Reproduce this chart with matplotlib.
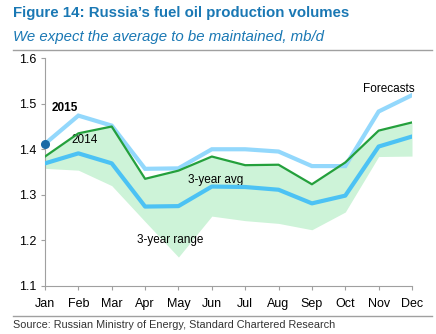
import matplotlib
matplotlib.use("Agg")
import matplotlib.pyplot as plt

plt.rcParams['font.family'] = ['Liberation Sans', 'DejaVu Sans']

months = ["Jan", "Feb", "Mar", "Apr", "May", "Jun",
          "Jul", "Aug", "Sep", "Oct", "Nov", "Dec"]

# mb/d
y2015 = [1.412, 1.474, 1.452, 1.357, 1.358, 1.400,
         1.400, 1.395, 1.363, 1.363, 1.483, 1.519]
y2014 = [1.384, 1.435, 1.450, 1.335, 1.353, 1.384,
         1.365, 1.366, 1.323, 1.371, 1.441, 1.459]
avg3 = [1.369, 1.391, 1.369, 1.274, 1.275, 1.318,
        1.317, 1.311, 1.281, 1.298, 1.406, 1.428]
range_low = [1.358, 1.354, 1.320, 1.241, 1.163, 1.253,
             1.243, 1.237, 1.223, 1.262, 1.384, 1.385]
range_high = y2014

blue_title = "#1a78b4"

fig = plt.figure(figsize=(4.36, 3.34), dpi=100)
ax = fig.add_axes([45 / 436, 1 - 285.7 / 334, 367 / 436, 227.4 / 334])

x = list(range(len(months)))
ax.fill_between(x, range_low, range_high, color="#cdf3d8", lw=0)
ax.plot(x, y2015, color="#93d8fc", lw=3, solid_joinstyle="miter", zorder=3)
ax.plot(x, y2014, color="#24a03c", lw=1.6, zorder=4)
ax.plot(x, avg3, color="#4cc2f4", lw=3, zorder=4)
ax.plot([0], [y2015[0]], "o", color="#1a6aa6", ms=5.5, zorder=5, clip_on=False)

ax.set_xlim(0, 11)
ax.set_ylim(1.1, 1.6)
ax.set_yticks([1.1, 1.2, 1.3, 1.4, 1.5, 1.6])
ax.set_yticklabels(["1.1", "1.2", "1.3", "1.4", "1.5", "1.6"])
ax.set_xticks(x)
ax.set_xticklabels(months)

for s in ["top", "right"]:
    ax.spines[s].set_visible(False)
ax.spines["left"].set_color("#a0a0a0")
ax.spines["bottom"].set_color("#a0a0a0")
ax.tick_params(colors="#a0a0a0", labelcolor="black", labelsize=9, length=3)
ax.tick_params(axis="x", pad=6)

ax.text(0.2, 1.49, "2015", fontsize=8.5, fontweight="bold", va="center")
ax.text(1.2, 1.42, "2014", fontsize=8.5, ha="center", va="center")
ax.text(5.1, 1.332, "3-year avg", fontsize=8.5, ha="center", va="center")
ax.text(3.75, 1.2, "3-year range", fontsize=8.5, ha="center", va="center")
ax.text(10.3, 1.533, "Forecasts", fontsize=8.5, ha="center", va="center")

fig.text(13 / 436, 1 - 13 / 334, "Figure 14: Russia\u2019s fuel oil production volumes",
         fontsize=10.8, fontweight="bold", color=blue_title, va="center")
fig.text(13 / 436, 1 - 37 / 334, "We expect the average to be maintained, mb/d",
         fontsize=10.8, fontstyle="italic", color=blue_title, va="center")
fig.text(13 / 436, 1 - 325 / 334,
         "Source: Russian Ministry of Energy, Standard Chartered Research",
         fontsize=7.8, color="#333333", va="center")

fig.add_artist(plt.Line2D([13 / 436, 432 / 436], [1 - 50 / 334, 1 - 50 / 334],
                          color="#a0a0a0", lw=1))
fig.add_artist(plt.Line2D([13 / 436, 432 / 436], [1 - 316 / 334, 1 - 316 / 334],
                          color="#a0a0a0", lw=1))

fig.savefig("out.png", dpi=100)
